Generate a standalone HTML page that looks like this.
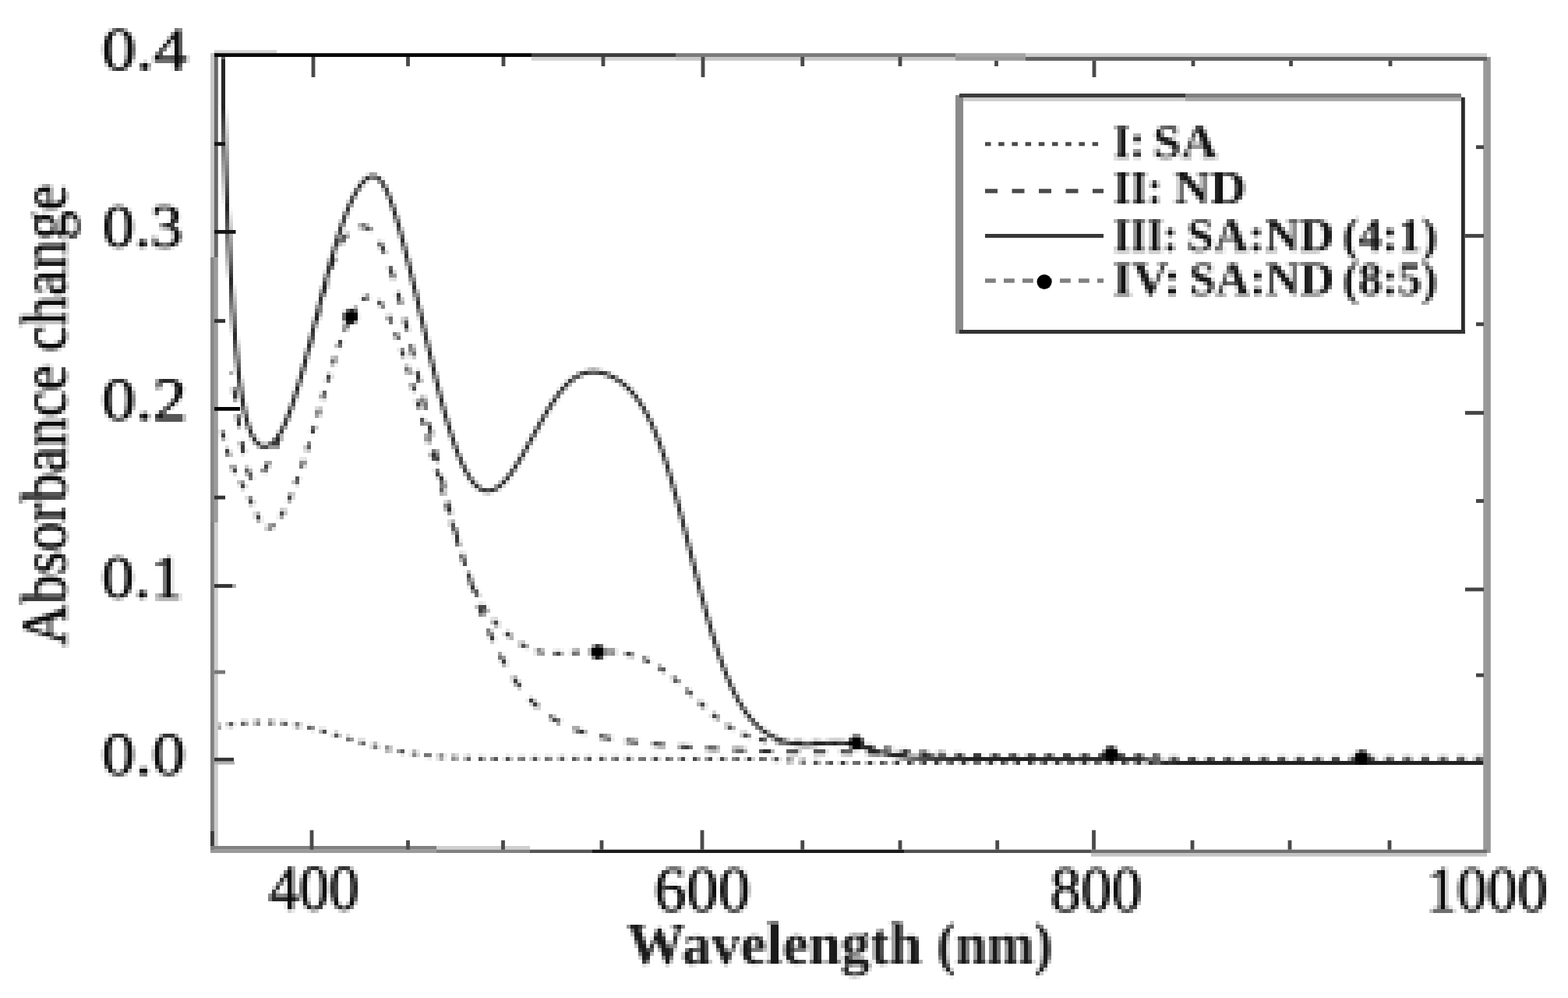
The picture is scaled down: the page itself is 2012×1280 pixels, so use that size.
<!DOCTYPE html>
<html lang="en"><head><meta charset="utf-8"><title>Absorbance change vs. wavelength</title>
<style>
html,body{margin:0;padding:0;background:#fff;}
body{width:2012px;height:1280px;overflow:hidden;}
svg{display:block;}
text{font-family:"Liberation Serif","DejaVu Serif",serif;fill:#0d0d0d;stroke:#0d0d0d;stroke-width:1.2;stroke-linejoin:round;}
.b{font-weight:bold;fill:#151515;stroke:none;}
.t{font-weight:bold;fill:#1a1a1a;stroke:none;}
</style></head><body>
<svg width="2012" height="1280" viewBox="0 0 2012 1280" role="img" aria-label="Absorbance change versus wavelength">
<defs><filter id="lowres" x="0" y="0" width="2012" height="1280" filterUnits="userSpaceOnUse" primitiveUnits="userSpaceOnUse" color-interpolation-filters="sRGB">
<feConvolveMatrix in="SourceGraphic" order="5" kernelMatrix="1 1 1 1 1 1 1 1 1 1 1 1 1 1 1 1 1 1 1 1 1 1 1 1 1" divisor="25" edgeMode="duplicate" preserveAlpha="true" result="avg"/>
<feFlood x="6.0" y="3.0" width="1" height="1" flood-color="#000" result="dot"/>
<feComposite in="dot" in2="dot" operator="over" x="4.0" y="1.0" width="5" height="5" result="cell"/>
<feTile in="cell" result="grid"/>
<feComposite in="avg" in2="grid" operator="in" result="samples"/>
<feMorphology in="samples" operator="dilate" radius="2"/>
</filter></defs>
<g id="plot" filter="url(#lowres)">
<rect width="2012" height="1280" fill="#fff"/>
<g id="curves" fill="none" stroke-linejoin="round">
<path d="M276.0 932.2L279.0 931.7L281.9 931.3L284.9 930.8L287.9 930.4L290.8 930.0L293.8 929.6L296.8 929.2L299.8 928.9L302.7 928.6L305.7 928.3L308.7 928.0L311.7 927.7L314.7 927.5L317.7 927.2L320.7 927.1L323.7 926.9L326.7 926.8L329.7 926.7L332.7 926.6L335.7 926.5L338.7 926.5L341.7 926.5L344.7 926.6L347.7 926.7L350.7 926.8L353.7 927.0L356.6 927.2L359.6 927.4L362.6 927.6L365.6 927.9L368.6 928.3L371.6 928.6L374.6 929.1L377.5 929.5L380.5 930.0L383.4 930.5L386.4 931.0L389.3 931.6L392.3 932.2L395.2 932.8L398.1 933.5L401.1 934.2L404.0 934.9L406.9 935.6L409.8 936.4L412.7 937.2L415.6 938.0L418.5 938.8L421.4 939.6L424.3 940.5L427.1 941.3L430.0 942.2L432.9 943.0L435.8 943.9L438.6 944.8L441.5 945.6L444.4 946.5L447.2 947.4L450.1 948.2L453.0 949.1L455.9 949.9L458.8 950.7L461.6 951.6L464.5 952.4L467.4 953.2L470.3 954.0L473.2 954.7L476.1 955.5L479.0 956.2L481.9 956.9L484.8 957.7L487.8 958.3L490.7 959.0L493.6 959.7L496.5 960.3L499.5 960.9L502.4 961.5L505.3 962.1L508.3 962.7L511.2 963.2L514.2 963.8L517.1 964.3L520.1 964.8L523.1 965.3L526.0 965.7L529.0 966.2L531.9 966.6L534.9 967.1L537.9 967.5L540.9 967.9L543.8 968.2L546.8 968.6L549.8 968.9L552.8 969.3L555.8 969.6L558.7 969.9L561.7 970.2L564.7 970.5L567.7 970.7L570.7 971.0L573.7 971.2L576.7 971.4L579.7 971.6L582.7 971.8L585.7 972.0L588.6 972.1L591.6 972.3L594.6 972.4L597.6 972.5L600.6 972.6L603.6 972.7L606.6 972.8L609.6 972.9L612.6 972.9L615.6 973.0L618.6 973.0L621.6 973.1L624.6 973.1L627.6 973.1L630.6 973.2L633.6 973.2L636.6 973.2L639.6 973.2L642.6 973.2L645.6 973.2L648.6 973.2L651.6 973.1L654.6 973.1L657.6 973.1L660.6 973.1L663.6 973.1L666.6 973.1L669.6 973.0L672.6 973.0L675.6 973.0L678.6 973.0L681.6 973.0L684.6 972.9L687.6 972.9L690.6 972.9L693.6 972.9L696.6 972.9L699.6 972.9L702.6 972.9L705.6 972.9L708.6 972.9L711.6 972.9L714.6 972.8L717.6 972.8L720.6 972.8L723.6 972.8L726.6 972.9L729.6 972.9L732.6 972.9L735.6 972.9L738.6 972.9L741.6 972.9L744.6 972.9L747.6 972.9L750.6 972.9L753.6 972.9L756.6 972.9L759.6 972.9L762.6 972.9L765.6 973.0L768.6 973.0L771.6 973.0L774.6 973.0L777.6 973.0L780.6 973.0L783.6 973.0L786.6 973.0L789.6 973.1L792.6 973.1L795.6 973.1L798.6 973.1L801.6 973.1L804.6 973.1L807.6 973.1L810.6 973.1L813.6 973.1L816.6 973.1L819.6 973.2L822.6 973.2L825.6 973.2L828.6 973.2L831.6 973.2L834.6 973.2L837.6 973.2L840.6 973.2L843.6 973.2L846.6 973.2L849.6 973.2L852.6 973.2L855.6 973.2L858.6 973.2L861.6 973.2L864.6 973.2L867.6 973.3L870.6 973.3L873.6 973.3L876.6 973.3L879.6 973.3L882.6 973.3L885.6 973.3L888.6 973.3L891.6 973.3L894.6 973.3L897.6 973.3L900.6 973.3L903.6 973.3L906.6 973.3L909.6 973.3L912.6 973.3L915.6 973.3L918.6 973.3L921.6 973.3L924.6 973.3L927.6 973.3L930.6 973.3L933.6 973.3L936.6 973.3L939.6 973.3L942.6 973.3L945.6 973.3L948.6 973.3L951.6 973.3L954.6 973.3L957.6 973.4L960.6 973.4L963.6 973.4L966.6 973.4L969.6 973.4L972.6 973.5L975.6 973.5L978.6 973.6L981.6 973.6L984.6 973.7L987.6 973.8L990.6 973.9L993.6 974.0L996.6 974.1L999.6 974.3L1002.6 974.5L1005.6 974.7L1008.6 974.9L1011.6 975.2L1014.6 975.4L1017.6 975.7L1020.6 976.0L1023.6 976.3L1026.6 976.6L1029.6 976.8L1032.6 977.1L1035.6 977.3L1038.6 977.5L1041.6 977.7L1044.6 977.8L1047.6 978.0L1050.6 978.1L1053.6 978.2L1056.6 978.2L1059.6 978.3L1062.6 978.4L1065.6 978.4L1068.6 978.4L1071.6 978.5L1074.6 978.5L1077.6 978.5L1080.6 978.5L1083.6 978.5L1086.6 978.6L1089.6 978.6L1092.6 978.6L1095.6 978.6L1098.6 978.6L1101.6 978.6L1104.6 978.6L1107.6 978.6L1110.6 978.6L1113.6 978.6L1116.6 978.6L1119.6 978.6L1122.6 978.6L1125.6 978.6L1128.6 978.6L1131.6 978.6L1134.6 978.6L1137.6 978.6L1140.6 978.6L1143.6 978.6L1146.6 978.6L1149.6 978.6L1152.6 978.6L1155.6 978.6L1158.6 978.6L1161.6 978.6L1164.6 978.6L1167.6 978.6L1170.6 978.6L1173.6 978.6L1176.6 978.6L1179.6 978.6L1182.6 978.6L1185.6 978.6L1188.6 978.6L1191.6 978.6L1194.6 978.6L1197.6 978.6L1200.6 978.6L1203.6 978.6L1206.6 978.6L1209.6 978.6L1212.6 978.6L1215.6 978.6L1218.6 978.6L1221.6 978.6L1224.6 978.6L1227.6 978.6L1230.6 978.6L1233.6 978.6L1236.6 978.6L1239.6 978.6L1242.6 978.6L1245.6 978.6L1248.6 978.6L1251.6 978.6L1254.6 978.6L1257.6 978.6L1260.6 978.6L1263.6 978.6L1266.6 978.6L1269.6 978.6L1272.6 978.6L1275.6 978.6L1278.6 978.6L1281.6 978.6L1284.6 978.6L1287.6 978.6L1290.6 978.6L1293.6 978.6L1296.6 978.6L1299.6 978.6L1302.6 978.6L1305.6 978.6L1308.6 978.6L1311.6 978.6L1314.6 978.6L1317.6 978.6L1320.6 978.6L1323.6 978.6L1326.6 978.6L1329.6 978.6L1332.6 978.6L1335.6 978.6L1338.6 978.6L1341.6 978.6L1344.6 978.6L1347.6 978.6L1350.6 978.6L1353.6 978.6L1356.6 978.6L1359.6 978.6L1362.6 978.6L1365.6 978.6L1368.6 978.6L1371.6 978.6L1374.6 978.6L1377.6 978.6L1380.6 978.6L1383.6 978.6L1386.6 978.6L1389.6 978.6L1392.6 978.6L1395.6 978.6L1398.6 978.6L1401.6 978.6L1404.6 978.6L1407.6 978.6L1410.6 978.6L1413.6 978.6L1416.6 978.6L1419.6 978.6L1422.6 978.6L1425.6 978.6L1428.6 978.6L1431.6 978.6L1434.6 978.6L1437.6 978.6L1440.6 978.6L1443.6 978.6L1446.6 978.6L1449.6 978.6L1452.6 978.6L1455.6 978.6L1458.6 978.6L1461.6 978.6L1464.6 978.6L1467.6 978.6L1470.6 978.6L1473.6 978.6L1476.6 978.6L1479.6 978.6L1482.6 978.6L1485.6 978.6L1488.6 978.6L1491.6 978.6L1494.6 978.6L1497.6 978.6L1500.6 978.6L1503.6 978.6L1506.6 978.6L1509.6 978.6L1512.6 978.6L1515.6 978.6L1518.6 978.6L1521.6 978.6L1524.6 978.6L1527.6 978.6L1530.6 978.6L1533.6 978.6L1536.6 978.6L1539.6 978.6L1542.6 978.6L1545.6 978.6L1548.6 978.6L1551.6 978.6L1554.6 978.6L1557.6 978.6L1560.6 978.6L1563.6 978.6L1566.6 978.6L1569.6 978.6L1572.6 978.6L1575.6 978.6L1578.6 978.6L1581.6 978.6L1584.6 978.6L1587.6 978.6L1590.6 978.6L1593.6 978.6L1596.6 978.6L1599.6 978.6L1602.6 978.6L1605.6 978.6L1608.6 978.6L1611.6 978.6L1614.6 978.6L1617.6 978.6L1620.6 978.6L1623.6 978.6L1626.6 978.6L1629.6 978.6L1632.6 978.6L1635.6 978.6L1638.6 978.6L1641.6 978.6L1644.6 978.6L1647.6 978.6L1650.6 978.6L1653.6 978.6L1656.6 978.6L1659.6 978.6L1662.6 978.6L1665.6 978.6L1668.6 978.6L1671.6 978.6L1674.6 978.6L1677.6 978.6L1680.6 978.6L1683.6 978.6L1686.6 978.6L1689.6 978.6L1692.6 978.6L1695.6 978.6L1698.6 978.6L1701.6 978.6L1704.6 978.6L1707.6 978.6L1710.6 978.6L1713.6 978.6L1716.6 978.6L1719.6 978.6L1722.6 978.6L1725.6 978.6L1728.6 978.6L1731.6 978.6L1734.6 978.6L1737.6 978.6L1740.6 978.6L1743.6 978.6L1746.6 978.6L1749.6 978.6L1752.6 978.6L1755.6 978.6L1758.6 978.6L1761.6 978.6L1764.6 978.6L1767.6 978.6L1770.6 978.6L1773.6 978.6L1776.6 978.6L1779.6 978.6L1782.6 978.6L1785.6 978.6L1788.6 978.6L1791.6 978.6L1794.6 978.6L1797.6 978.6L1800.6 978.6L1803.6 978.6L1806.6 978.6L1809.6 978.6L1812.6 978.6L1815.6 978.6L1818.6 978.6L1821.6 978.6L1824.6 978.6L1827.6 978.6L1830.6 978.6L1833.6 978.6L1836.6 978.6L1839.6 978.6L1842.6 978.6L1845.6 978.6L1848.6 978.6L1851.6 978.6L1854.6 978.6L1857.6 978.6L1860.6 978.6L1863.6 978.6L1866.6 978.6L1869.6 978.6L1872.6 978.6L1875.6 978.6L1878.6 978.6L1881.6 978.6L1884.6 978.6L1887.6 978.6L1890.6 978.6L1893.6 978.6L1896.6 978.6L1899.6 978.6L1902.6 978.6L1905.0 978.6" stroke="#3c3c3c" stroke-width="5" stroke-dasharray="7.5 9.7" stroke-dashoffset="0.7"/>
<path d="M297.0 477.1L297.5 480.1L298.0 483.0L298.4 486.0L298.9 488.9L299.3 491.9L299.8 494.9L300.2 497.8L300.6 500.8L301.0 503.8L301.5 506.7L301.9 509.7L302.3 512.7L302.7 515.7L303.1 518.6L303.5 521.6L303.9 524.6L304.3 527.5L304.7 530.5L305.1 533.5L305.5 536.5L305.9 539.4L306.3 542.4L306.8 545.4L307.2 548.4L307.6 551.3L308.1 554.3L308.5 557.3L309.0 560.2L309.4 563.2L309.9 566.2L310.4 569.1L310.9 572.1L311.4 575.1L311.9 578.0L312.5 580.9L313.1 583.9L313.7 586.8L314.3 589.7L315.0 592.6L315.7 595.5L316.4 598.4L317.3 601.2L318.2 604.0L319.2 606.7L320.3 609.3L321.7 611.8L323.4 613.9L325.6 615.4L328.5 615.5L331.3 613.8L333.6 611.6L335.5 609.1L337.2 606.6L338.9 604.0L340.4 601.4L341.9 598.7L343.3 596.0L344.6 593.3L346.0 590.6L347.3 587.9L348.6 585.2L349.8 582.4L351.1 579.7L352.3 576.9L353.5 574.2L354.7 571.4L355.9 568.6L357.0 565.8L358.2 563.1L359.3 560.3L360.4 557.5L361.5 554.7L362.6 551.9L363.7 549.1L364.8 546.3L365.8 543.4L366.9 540.6L367.9 537.8L369.0 535.0L370.0 532.2L371.0 529.3L372.0 526.5L373.0 523.7L374.0 520.8L375.0 518.0L375.9 515.1L376.9 512.3L377.9 509.4L378.8 506.6L379.8 503.7L380.7 500.9L381.6 498.0L382.5 495.1L383.4 492.3L384.3 489.4L385.2 486.5L386.1 483.7L387.0 480.8L387.9 477.9L388.7 475.0L389.6 472.2L390.4 469.3L391.3 466.4L392.1 463.5L392.9 460.6L393.8 457.7L394.6 454.8L395.4 452.0L396.2 449.1L397.0 446.2L397.8 443.3L398.6 440.4L399.4 437.5L400.1 434.6L400.9 431.7L401.7 428.8L402.4 425.9L403.2 423.0L404.0 420.0L404.7 417.1L405.5 414.2L406.2 411.3L407.0 408.4L407.7 405.5L408.5 402.6L409.2 399.7L410.0 396.8L410.7 393.9L411.5 391.0L412.2 388.1L413.0 385.2L413.7 382.3L414.5 379.4L415.2 376.5L416.0 373.6L416.8 370.7L417.6 367.8L418.4 364.9L419.2 362.1L420.0 359.2L420.8 356.3L421.7 353.4L422.5 350.6L423.4 347.7L424.3 344.9L425.2 342.0L426.2 339.2L427.1 336.4L428.1 333.6L429.1 330.8L430.2 328.0L431.3 325.2L432.4 322.5L433.6 319.8L434.9 317.1L436.2 314.5L437.6 311.9L439.0 309.3L440.6 306.8L442.3 304.4L444.0 302.1L445.9 299.9L447.9 297.8L450.1 295.8L452.5 294.0L454.9 292.5L457.6 291.3L460.4 290.4L463.4 290.1L466.4 290.3L469.3 291.1L472.1 292.4L474.7 294.2L477.0 296.2L479.1 298.5L481.0 300.9L482.8 303.5L484.5 306.0L486.0 308.7L487.5 311.4L488.8 314.1L490.2 316.8L491.4 319.6L492.7 322.4L493.8 325.1L495.0 328.0L496.1 330.8L497.1 333.6L498.2 336.4L499.2 339.3L500.2 342.1L501.1 345.0L502.1 347.8L503.0 350.7L503.9 353.6L504.8 356.5L505.7 359.3L506.5 362.2L507.4 365.1L508.2 368.0L509.1 370.9L509.9 373.8L510.7 376.7L511.5 379.6L512.3 382.5L513.1 385.4L513.9 388.3L514.6 391.2L515.4 394.1L516.1 397.0L516.9 399.9L517.6 402.8L518.4 405.7L519.1 408.6L519.8 411.6L520.5 414.5L521.3 417.4L522.0 420.3L522.7 423.2L523.4 426.1L524.1 429.1L524.8 432.0L525.5 434.9L526.2 437.8L526.9 440.7L527.6 443.7L528.2 446.6L528.9 449.5L529.6 452.4L530.3 455.3L531.0 458.3L531.6 461.2L532.3 464.1L533.0 467.0L533.7 470.0L534.3 472.9L535.0 475.8L535.7 478.7L536.3 481.7L537.0 484.6L537.7 487.5L538.3 490.4L539.0 493.4L539.6 496.3L540.3 499.2L541.0 502.2L541.6 505.1L542.3 508.0L543.0 510.9L543.6 513.9L544.3 516.8L544.9 519.7L545.6 522.6L546.3 525.6L546.9 528.5L547.6 531.4L548.3 534.3L548.9 537.3L549.6 540.2L550.3 543.1L550.9 546.0L551.6 549.0L552.3 551.9L552.9 554.8L553.6 557.7L554.3 560.6L555.0 563.6L555.6 566.5L556.3 569.4L557.0 572.3L557.7 575.3L558.4 578.2L559.0 581.1L559.7 584.0L560.4 586.9L561.1 589.9L561.8 592.8L562.5 595.7L563.2 598.6L563.9 601.5L564.6 604.4L565.3 607.3L566.0 610.3L566.7 613.2L567.4 616.1L568.1 619.0L568.9 621.9L569.6 624.8L570.3 627.7L571.0 630.6L571.8 633.5L572.5 636.5L573.2 639.4L574.0 642.3L574.7 645.2L575.5 648.1L576.2 651.0L577.0 653.9L577.7 656.8L578.5 659.7L579.3 662.6L580.0 665.5L580.8 668.4L581.6 671.3L582.4 674.1L583.2 677.0L584.0 679.9L584.7 682.8L585.6 685.7L586.4 688.6L587.2 691.5L588.0 694.4L588.8 697.2L589.6 700.1L590.5 703.0L591.3 705.9L592.2 708.7L593.0 711.6L593.9 714.5L594.7 717.4L595.6 720.2L596.5 723.1L597.4 725.9L598.2 728.8L599.1 731.7L600.0 734.5L601.0 737.4L601.9 740.2L602.8 743.1L603.7 745.9L604.7 748.8L605.6 751.6L606.6 754.4L607.5 757.3L608.5 760.1L609.5 762.9L610.5 765.8L611.5 768.6L612.5 771.4L613.5 774.2L614.6 777.0L615.6 779.8L616.7 782.6L617.7 785.4L618.8 788.2L619.9 791.0L621.0 793.8L622.1 796.5L623.2 799.3L624.3 802.1L625.5 804.8L626.7 807.6L627.8 810.3L629.0 813.1L630.2 815.8L631.4 818.6L632.7 821.3L633.9 824.0L635.2 826.7L636.5 829.4L637.8 832.1L639.1 834.8L640.5 837.4L641.8 840.1L643.2 842.7L644.6 845.4L646.0 848.0L647.5 850.6L648.9 853.2L650.4 855.8L651.9 858.4L653.5 860.9L655.1 863.4L656.6 866.0L658.3 868.5L659.9 871.0L661.6 873.4L663.3 875.9L665.0 878.3L666.8 880.7L668.6 883.1L670.4 885.4L672.3 887.7L674.2 890.0L676.1 892.3L678.1 894.5L680.1 896.7L682.2 898.9L684.3 901.0L686.4 903.1L688.5 905.2L690.7 907.2L693.0 909.1L695.3 911.0L697.6 912.9L699.9 914.7L702.3 916.5L704.8 918.2L707.2 919.9L709.7 921.5L712.3 923.1L714.8 924.6L717.5 926.1L720.1 927.5L722.7 928.9L725.4 930.2L728.2 931.4L730.9 932.6L733.7 933.7L736.4 934.8L739.2 935.9L742.1 936.9L744.9 937.9L747.7 938.8L750.6 939.6L753.5 940.5L756.4 941.3L759.3 942.0L762.2 942.8L765.1 943.5L768.0 944.1L770.9 944.8L773.9 945.4L776.8 945.9L779.8 946.5L782.7 947.0L785.7 947.5L788.6 948.0L791.6 948.5L794.6 949.0L797.5 949.4L800.5 949.8L803.5 950.3L806.4 950.6L809.4 951.0L812.4 951.4L815.4 951.8L818.3 952.1L821.3 952.5L824.3 952.8L827.3 953.1L830.3 953.4L833.3 953.7L836.2 954.1L839.2 954.3L842.2 954.6L845.2 954.9L848.2 955.2L851.2 955.5L854.2 955.7L857.1 956.0L860.1 956.2L863.1 956.5L866.1 956.7L869.1 957.0L872.1 957.2L875.1 957.4L878.1 957.7L881.1 957.9L884.1 958.1L887.1 958.3L890.0 958.5L893.0 958.7L896.0 958.9L899.0 959.1L902.0 959.3L905.0 959.5L908.0 959.7L911.0 959.9L914.0 960.1L917.0 960.3L920.0 960.5L923.0 960.6L926.0 960.8L929.0 961.0L932.0 961.2L935.0 961.3L938.0 961.5L940.9 961.6L943.9 961.8L946.9 962.0L949.9 962.1L952.9 962.3L955.9 962.4L958.9 962.5L961.9 962.7L964.9 962.8L967.9 962.9L970.9 963.1L973.9 963.2L976.9 963.3L979.9 963.4L982.9 963.5L985.9 963.7L988.9 963.8L991.9 963.9L994.9 963.9L997.9 964.0L1000.9 964.1L1003.9 964.2L1006.9 964.3L1009.9 964.3L1012.9 964.4L1015.9 964.4L1018.9 964.5L1021.9 964.5L1024.9 964.5L1027.9 964.6L1030.9 964.6L1033.9 964.6L1036.9 964.6L1039.9 964.6L1042.9 964.6L1045.9 964.6L1048.9 964.6L1051.9 964.6L1054.9 964.6L1057.9 964.6L1060.9 964.6L1063.9 964.6L1066.9 964.6L1069.9 964.6L1072.9 964.6L1075.9 964.6L1078.9 964.6L1081.9 964.6L1084.9 964.7L1087.9 964.7L1090.9 964.8L1093.9 964.9L1096.9 964.9L1099.9 965.0L1102.9 965.1L1105.9 965.3L1108.9 965.4L1111.9 965.5L1114.9 965.6L1117.9 965.8L1120.9 965.9L1123.9 966.1L1126.9 966.3L1129.9 966.4L1132.8 966.6L1135.8 966.8L1138.8 967.0L1141.8 967.1L1144.8 967.3L1147.8 967.5L1150.8 967.6L1153.8 967.8L1156.8 968.0L1159.8 968.1L1162.8 968.3L1165.8 968.4L1168.8 968.6L1171.8 968.7L1174.8 968.9L1177.8 969.0L1180.8 969.1L1183.8 969.2L1186.8 969.3L1189.8 969.4L1192.8 969.5L1195.8 969.6L1198.8 969.7L1200.0 969.8" stroke="#2a2a2a" stroke-width="5" stroke-dasharray="16 18.5" stroke-dashoffset="13.8"/>
<path d="M284.6 551.5L285.3 554.4L286.1 557.3L286.9 560.2L287.6 563.0L288.4 565.9L289.2 568.8L290.0 571.7L290.8 574.6L291.6 577.4L292.5 580.3L293.4 583.2L294.3 586.0L295.2 588.8L296.2 591.6L297.2 594.4L298.2 597.2L299.3 600.0L300.5 602.7L301.7 605.4L303.0 608.0L304.3 610.7L305.7 613.3L307.2 615.8L308.7 618.4L310.3 620.9L311.8 623.5L313.4 626.1L314.9 628.8L316.3 631.4L317.7 634.1L319.0 636.9L320.3 639.6L321.6 642.3L322.8 645.1L324.0 647.9L325.2 650.6L326.4 653.3L327.6 656.1L328.9 658.8L330.2 661.4L331.5 664.1L332.9 666.7L334.4 669.1L336.1 671.5L338.0 673.6L340.1 675.4L342.7 676.5L345.6 676.6L348.6 675.5L351.2 673.7L353.4 671.5L355.4 669.1L357.3 666.7L359.0 664.1L360.6 661.5L362.2 658.9L363.7 656.3L365.1 653.6L366.5 650.9L367.8 648.2L369.1 645.4L370.3 642.7L371.6 639.9L372.8 637.1L373.9 634.4L375.1 631.6L376.2 628.8L377.3 626.0L378.4 623.2L379.5 620.3L380.5 617.5L381.5 614.7L382.6 611.9L383.6 609.0L384.6 606.2L385.5 603.3L386.5 600.5L387.5 597.6L388.4 594.8L389.4 591.9L390.3 589.1L391.2 586.2L392.2 583.4L393.1 580.5L394.0 577.6L394.9 574.8L395.8 571.9L396.7 569.0L397.5 566.2L398.4 563.3L399.3 560.4L400.2 557.5L401.0 554.7L401.9 551.8L402.7 548.9L403.6 546.0L404.5 543.1L405.3 540.3L406.2 537.4L407.0 534.5L407.9 531.6L408.7 528.8L409.5 525.9L410.4 523.0L411.2 520.1L412.1 517.2L412.9 514.4L413.8 511.5L414.6 508.6L415.4 505.7L416.3 502.8L417.1 500.0L418.0 497.1L418.8 494.2L419.7 491.4L420.6 488.5L421.4 485.6L422.3 482.7L423.2 479.9L424.0 477.0L424.9 474.1L425.8 471.3L426.7 468.4L427.6 465.6L428.5 462.7L429.4 459.9L430.4 457.0L431.3 454.2L432.2 451.3L433.2 448.5L434.1 445.7L435.1 442.8L436.1 440.0L437.1 437.2L438.1 434.4L439.2 431.6L440.2 428.8L441.3 426.0L442.4 423.3L443.5 420.5L444.7 417.7L445.9 415.0L447.1 412.3L448.3 409.6L449.6 406.9L451.0 404.3L452.4 401.7L453.8 399.1L455.3 396.6L456.9 394.1L458.6 391.7L460.4 389.4L462.3 387.2L464.4 385.2L466.7 383.4L469.2 382.0L472.0 381.1L474.9 380.8L477.9 381.3L480.8 382.6L483.4 384.3L485.7 386.4L487.8 388.6L489.8 391.0L491.5 393.5L493.2 396.1L494.8 398.7L496.3 401.4L497.7 404.1L499.1 406.8L500.4 409.5L501.6 412.3L502.9 415.1L504.0 417.8L505.2 420.6L506.3 423.4L507.4 426.2L508.5 429.1L509.6 431.9L510.6 434.7L511.6 437.6L512.6 440.4L513.6 443.2L514.6 446.1L515.5 448.9L516.5 451.8L517.4 454.7L518.3 457.5L519.2 460.4L520.1 463.2L521.0 466.1L521.9 469.0L522.8 471.9L523.7 474.7L524.6 477.6L525.4 480.5L526.3 483.4L527.2 486.2L528.0 489.1L528.9 492.0L529.7 494.9L530.5 497.8L531.4 500.6L532.2 503.5L533.1 506.4L533.9 509.3L534.7 512.2L535.5 515.1L536.4 517.9L537.2 520.8L538.0 523.7L538.8 526.6L539.7 529.5L540.5 532.4L541.3 535.3L542.1 538.2L542.9 541.0L543.7 543.9L544.6 546.8L545.4 549.7L546.2 552.6L547.0 555.5L547.8 558.4L548.6 561.2L549.5 564.1L550.3 567.0L551.1 569.9L551.9 572.8L552.7 575.7L553.5 578.6L554.4 581.5L555.2 584.3L556.0 587.2L556.8 590.1L557.6 593.0L558.4 595.9L559.2 598.8L560.1 601.7L560.9 604.6L561.7 607.4L562.5 610.3L563.3 613.2L564.1 616.1L565.0 619.0L565.8 621.9L566.6 624.8L567.4 627.6L568.2 630.5L569.1 633.4L569.9 636.3L570.7 639.2L571.5 642.1L572.4 644.9L573.2 647.8L574.0 650.7L574.8 653.6L575.7 656.5L576.5 659.4L577.3 662.2L578.2 665.1L579.0 668.0L579.9 670.9L580.7 673.7L581.6 676.6L582.4 679.5L583.3 682.4L584.1 685.2L585.0 688.1L585.9 691.0L586.8 693.8L587.7 696.7L588.6 699.5L589.5 702.4L590.4 705.2L591.3 708.1L592.2 710.9L593.2 713.8L594.1 716.6L595.1 719.5L596.0 722.3L597.0 725.1L598.0 727.9L599.0 730.7L600.1 733.5L601.1 736.3L602.2 739.1L603.3 741.9L604.4 744.7L605.5 747.4L606.6 750.2L607.8 752.9L609.0 755.7L610.3 758.4L611.5 761.1L612.8 763.7L614.1 766.4L615.5 769.0L616.9 771.7L618.4 774.2L619.9 776.8L621.4 779.3L623.0 781.9L624.6 784.3L626.3 786.8L628.1 789.2L629.9 791.5L631.7 793.9L633.6 796.1L635.6 798.4L637.6 800.6L639.6 802.7L641.7 804.8L643.9 806.9L646.1 808.9L648.3 810.9L650.6 812.8L652.9 814.7L655.2 816.6L657.6 818.4L660.0 820.2L662.4 821.9L664.9 823.5L667.4 825.1L670.0 826.7L672.5 828.1L675.2 829.5L677.9 830.8L680.6 832.0L683.4 833.1L686.2 834.1L689.0 835.0L691.9 835.8L694.8 836.4L697.8 837.0L700.7 837.4L703.7 837.7L706.7 837.9L709.7 838.0L712.7 838.1L715.7 838.1L718.7 838.0L721.7 837.9L724.7 837.7L727.7 837.5L730.7 837.3L733.7 837.1L736.7 836.9L739.6 836.7L742.6 836.5L745.6 836.3L748.6 836.1L751.6 836.0L754.6 835.8L757.6 835.7L760.6 835.6L763.6 835.6L766.6 835.5L769.6 835.5L772.6 835.6L775.6 835.6L778.6 835.7L781.6 835.9L784.6 836.1L787.6 836.3L790.6 836.6L793.6 836.9L796.6 837.3L799.5 837.7L802.5 838.3L805.4 838.8L808.4 839.5L811.3 840.2L814.2 841.0L817.1 841.9L819.9 842.9L822.7 843.9L825.5 845.0L828.3 846.2L831.0 847.5L833.7 848.8L836.4 850.2L839.0 851.7L841.6 853.2L844.2 854.8L846.7 856.5L849.2 858.2L851.7 859.9L854.1 861.7L856.5 863.5L858.9 865.4L861.2 867.3L863.5 869.2L865.8 871.2L868.1 873.1L870.4 875.1L872.6 877.1L874.8 879.2L877.0 881.2L879.2 883.3L881.4 885.3L883.6 887.4L885.8 889.5L887.9 891.5L890.1 893.6L892.3 895.7L894.4 897.8L896.6 899.8L898.8 901.9L901.0 903.9L903.2 906.0L905.4 908.0L907.6 910.0L909.8 912.0L912.1 914.0L914.3 915.9L916.6 917.8L918.9 919.7L921.3 921.6L923.6 923.5L926.0 925.3L928.4 927.0L930.8 928.7L933.3 930.4L935.8 932.0L938.3 933.6L940.9 935.1L943.5 936.6L946.1 938.0L948.8 939.3L951.5 940.6L954.2 941.8L957.0 943.0L959.8 944.0L962.6 945.0L965.5 945.9L968.3 946.7L971.2 947.5L974.2 948.2L977.1 948.8L980.0 949.4L983.0 949.9L985.9 950.3L988.9 950.7L991.9 951.0L994.9 951.3L997.9 951.5L1000.9 951.7L1003.9 951.8L1006.9 952.0L1009.9 952.1L1012.9 952.2L1015.9 952.2L1018.9 952.3L1021.9 952.3L1024.9 952.3L1027.9 952.4L1030.9 952.4L1033.9 952.4L1036.9 952.4L1039.9 952.5L1042.9 952.5L1045.9 952.6L1048.8 952.6L1051.8 952.7L1054.8 952.8L1057.8 952.9L1060.8 953.0L1063.8 953.2L1066.8 953.3L1069.8 953.5L1072.8 953.7L1075.8 953.9L1078.8 954.1L1081.8 954.3L1084.8 954.6L1087.8 954.8L1090.8 955.1L1093.8 955.4L1096.7 955.7L1099.7 956.0L1102.7 956.3L1105.7 956.7L1108.7 957.0L1111.7 957.3L1114.6 957.7L1117.6 958.1L1120.6 958.4L1123.6 958.8L1126.5 959.1L1129.5 959.5L1132.5 959.9L1135.5 960.2L1138.5 960.6L1141.4 961.0L1144.4 961.3L1147.4 961.7L1150.4 962.0L1153.4 962.4L1156.3 962.7L1159.3 963.0L1162.3 963.4L1165.3 963.7L1168.3 964.0L1171.3 964.3L1174.2 964.6L1177.2 964.8L1180.2 965.1L1183.2 965.4L1186.2 965.6L1189.2 965.8L1192.2 966.1L1195.2 966.3L1198.2 966.5L1201.1 966.7L1204.1 966.9L1207.1 967.1L1210.1 967.2L1213.1 967.4L1216.1 967.5L1219.1 967.7L1222.1 967.8L1225.1 967.9L1228.1 968.1L1231.1 968.2L1234.1 968.3L1237.1 968.4L1240.1 968.5L1243.1 968.5L1246.1 968.6L1249.1 968.7L1252.1 968.7L1255.1 968.8L1258.1 968.8L1261.1 968.9L1264.1 968.9L1267.1 969.0L1270.1 969.0L1273.1 969.0L1276.1 969.1L1279.1 969.1L1282.1 969.1L1285.1 969.1L1288.1 969.1L1291.1 969.2L1294.1 969.2L1297.1 969.2L1300.1 969.2L1303.1 969.2L1306.1 969.2L1309.1 969.2L1312.1 969.2L1315.1 969.2L1318.1 969.2L1321.1 969.2L1324.1 969.2L1327.1 969.2L1330.1 969.2L1333.1 969.2L1336.1 969.2L1339.1 969.2L1342.1 969.2L1345.1 969.1L1348.1 969.1L1351.1 969.1L1354.1 969.1L1357.1 969.1L1360.1 969.1L1363.1 969.1L1366.1 969.1L1369.1 969.1L1372.1 969.1L1375.1 969.1L1378.1 969.1L1381.1 969.0L1384.1 969.0L1387.1 969.0L1390.1 969.0L1393.1 969.0L1396.1 969.0L1399.1 969.0L1402.1 969.0L1405.1 969.0L1408.1 969.0L1411.1 968.9L1414.1 968.9L1417.1 968.9L1420.1 968.9L1423.1 968.9L1426.1 968.9L1429.1 968.9L1432.1 968.9L1435.1 968.9L1438.1 968.9L1441.1 968.9L1444.1 968.8L1447.1 968.8L1450.1 968.8L1453.1 968.9L1456.1 968.9L1459.1 968.9L1462.1 968.9L1465.1 969.0L1468.1 969.0L1471.1 969.2L1474.1 969.3L1477.1 969.5L1480.1 969.8L1483.1 970.1L1486.1 970.5L1489.1 970.9L1492.1 971.3L1495.1 971.8L1498.1 972.1L1501.1 972.4L1504.1 972.7L1507.1 972.8L1510.1 973.0L1513.1 973.1L1516.1 973.1L1519.1 973.2L1522.1 973.2L1525.1 973.2L1528.1 973.2L1531.1 973.2L1534.1 973.2L1537.1 973.2L1540.1 973.2L1543.1 973.2L1546.1 973.2L1549.1 973.2L1552.1 973.2L1555.1 973.2L1558.1 973.2L1561.1 973.2L1564.1 973.2L1567.1 973.2L1570.1 973.2L1573.1 973.2L1576.1 973.2L1579.1 973.1L1582.1 973.1L1585.1 973.1L1588.1 973.1L1591.1 973.1L1594.1 973.1L1597.1 973.1L1600.1 973.1L1603.1 973.1L1606.1 973.1L1609.1 973.1L1612.1 973.1L1615.1 973.1L1618.1 973.1L1621.1 973.0L1624.1 973.0L1627.1 973.0L1630.1 973.0L1633.1 973.0L1636.1 973.0L1639.1 973.0L1642.1 973.0L1645.1 973.0L1648.1 973.0L1651.1 973.0L1654.1 973.0L1657.1 973.0L1660.1 973.0L1663.1 973.0L1666.1 973.0L1669.1 972.9L1672.1 972.9L1675.1 972.9L1678.1 972.9L1681.1 972.9L1684.1 972.9L1687.1 972.9L1690.1 972.9L1693.1 972.9L1696.1 972.9L1699.1 972.9L1702.1 972.9L1705.1 972.9L1708.1 972.9L1711.1 972.9L1714.1 972.9L1717.1 972.9L1720.1 972.9L1723.1 972.8L1726.1 972.8L1729.1 972.8L1732.1 972.8L1735.1 972.8L1738.1 972.8L1741.1 972.8L1744.1 972.8L1747.1 972.8L1750.1 972.8L1753.1 972.8L1756.1 972.8L1759.1 972.8L1762.1 972.8L1765.1 972.8L1768.1 972.8L1771.1 972.8L1774.1 972.8L1777.1 972.8L1780.1 972.8L1783.1 972.8L1786.1 972.8L1789.1 972.8L1792.1 972.8L1795.1 972.8L1798.1 972.8L1801.1 972.7L1804.1 972.7L1807.1 972.7L1810.1 972.7L1813.1 972.7L1816.1 972.7L1819.1 972.7L1822.1 972.7L1825.1 972.7L1828.1 972.7L1831.1 972.7L1834.1 972.7L1837.1 972.7L1840.1 972.7L1843.1 972.7L1846.1 972.7L1849.1 972.7L1852.1 972.7L1855.1 972.7L1858.1 972.7L1861.1 972.7L1864.1 972.7L1867.1 972.7L1870.1 972.7L1873.1 972.7L1876.1 972.7L1879.1 972.7L1882.1 972.7L1885.1 972.7L1888.1 972.7L1891.1 972.7L1894.1 972.7L1897.1 972.7L1900.1 972.7L1903.1 972.7L1905.0 972.7" stroke="#333" stroke-width="5" stroke-dasharray="10.5 12.5" stroke-dashoffset="21.5"/>
<path d="M286.4 72.5L286.4 77.4L286.4 82.2L286.4 87.0L286.4 91.7L286.4 96.4L286.4 101.1L286.4 105.8L286.4 110.4L286.4 115.0L286.4 119.5L286.4 124.0L286.4 128.5L286.4 132.9L286.5 137.3L286.7 141.7L286.8 146.0L287.0 150.3L287.1 154.6L287.3 158.8L287.4 163.0L287.6 167.2L287.7 171.3L287.9 175.4L288.0 179.5L288.2 183.5L288.3 187.6L288.5 191.5L288.6 195.5L288.8 199.4L288.9 203.3L289.1 207.1L289.2 210.9L289.4 214.7L289.5 218.4L289.7 222.2L289.8 225.9L290.0 229.5L290.1 233.1L290.3 236.7L290.4 240.3L290.6 243.8L290.7 247.4L290.9 250.8L291.0 254.3L291.2 257.7L291.3 261.1L291.5 264.4L291.6 267.8L291.8 271.1L291.9 274.4L292.1 277.6L292.2 280.8L292.4 284.0L292.5 287.2L292.7 290.3L292.8 293.4L293.0 296.5L293.1 299.5L293.3 302.6L293.5 305.6L293.6 308.6L293.8 311.6L293.9 314.7L294.1 317.7L294.2 320.7L294.4 323.7L294.6 326.8L294.7 329.8L294.9 332.8L295.0 335.9L295.2 338.9L295.4 341.9L295.6 344.9L295.7 348.0L295.9 351.0L296.1 354.0L296.3 357.0L296.5 360.1L296.6 363.1L296.8 366.1L297.0 369.1L297.2 372.2L297.4 375.2L297.6 378.2L297.8 381.2L298.0 384.2L298.2 387.3L298.4 390.3L298.6 393.3L298.8 396.3L299.0 399.4L299.3 402.4L299.5 405.4L299.7 408.4L299.9 411.4L300.2 414.4L300.4 417.5L300.6 420.5L300.9 423.5L301.1 426.5L301.4 429.5L301.6 432.5L301.9 435.6L302.2 438.6L302.4 441.6L302.7 444.6L303.0 447.6L303.3 450.6L303.6 453.6L303.8 456.6L304.2 459.6L304.5 462.6L304.8 465.6L305.1 468.6L305.4 471.6L305.8 474.6L306.1 477.6L306.5 480.6L306.8 483.6L307.2 486.6L307.6 489.6L308.0 492.6L308.4 495.6L308.8 498.5L309.3 501.5L309.7 504.5L310.2 507.5L310.7 510.4L311.2 513.4L311.7 516.3L312.2 519.3L312.8 522.2L313.4 525.1L314.0 528.1L314.7 531.0L315.3 533.9L316.0 536.8L316.8 539.6L317.6 542.5L318.5 545.3L319.4 548.1L320.3 550.9L321.4 553.7L322.5 556.4L323.8 559.0L325.2 561.6L326.7 564.0L328.4 566.3L330.3 568.5L332.5 570.3L334.9 571.8L337.7 572.7L340.6 572.8L343.6 572.1L346.4 570.8L349.0 569.0L351.3 566.9L353.4 564.6L355.3 562.2L357.0 559.6L358.7 557.0L360.2 554.4L361.7 551.7L363.1 549.0L364.4 546.3L365.7 543.5L366.9 540.7L368.1 538.0L369.2 535.2L370.3 532.3L371.4 529.5L372.4 526.7L373.5 523.8L374.5 521.0L375.4 518.1L376.4 515.3L377.3 512.4L378.3 509.6L379.2 506.7L380.1 503.8L380.9 500.9L381.8 498.1L382.7 495.2L383.5 492.3L384.4 489.4L385.2 486.5L386.0 483.6L386.8 480.7L387.6 477.8L388.4 474.9L389.2 472.0L390.0 469.1L390.8 466.2L391.5 463.3L392.3 460.4L393.1 457.5L393.8 454.6L394.6 451.7L395.4 448.8L396.1 445.9L396.9 443.0L397.6 440.1L398.3 437.2L399.1 434.3L399.8 431.4L400.6 428.5L401.3 425.6L402.0 422.6L402.8 419.7L403.5 416.8L404.2 413.9L404.9 411.0L405.7 408.1L406.4 405.2L407.1 402.3L407.9 399.4L408.6 396.5L409.3 393.5L410.1 390.6L410.8 387.7L411.5 384.8L412.3 381.9L413.0 379.0L413.8 376.1L414.5 373.2L415.2 370.3L416.0 367.4L416.8 364.5L417.5 361.6L418.3 358.7L419.0 355.8L419.8 352.9L420.6 350.0L421.3 347.1L422.1 344.2L422.9 341.3L423.7 338.4L424.5 335.5L425.3 332.7L426.1 329.8L426.9 326.9L427.7 324.0L428.6 321.1L429.4 318.3L430.3 315.4L431.1 312.5L432.0 309.7L432.9 306.8L433.7 303.9L434.6 301.1L435.6 298.2L436.5 295.4L437.4 292.6L438.4 289.7L439.4 286.9L440.3 284.1L441.4 281.3L442.4 278.5L443.4 275.7L444.5 272.9L445.6 270.1L446.7 267.4L447.9 264.6L449.1 261.9L450.3 259.2L451.5 256.5L452.8 253.8L454.2 251.2L455.6 248.6L457.0 246.0L458.6 243.5L460.1 241.0L461.8 238.5L463.6 236.2L465.4 233.9L467.4 231.8L469.6 229.9L471.9 228.2L474.5 226.8L477.3 226.1L480.3 226.1L483.2 227.2L485.8 229.0L488.1 231.2L490.0 233.7L491.7 236.3L493.3 239.0L494.7 241.7L496.0 244.4L497.3 247.2L498.5 250.0L499.6 252.8L500.7 255.7L501.7 258.5L502.7 261.4L503.7 264.2L504.7 267.1L505.6 270.0L506.5 272.8L507.4 275.7L508.3 278.6L509.1 281.5L510.0 284.4L510.8 287.2L511.6 290.1L512.5 293.0L513.3 295.9L514.1 298.8L514.9 301.7L515.6 304.6L516.4 307.5L517.2 310.4L518.0 313.3L518.7 316.2L519.5 319.1L520.2 322.1L521.0 325.0L521.7 327.9L522.4 330.8L523.2 333.7L523.9 336.6L524.6 339.5L525.4 342.4L526.1 345.4L526.8 348.3L527.5 351.2L528.2 354.1L528.9 357.0L529.6 359.9L530.3 362.9L531.0 365.8L531.7 368.7L532.4 371.6L533.1 374.5L533.8 377.5L534.5 380.4L535.2 383.3L535.9 386.2L536.5 389.1L537.2 392.1L537.9 395.0L538.6 397.9L539.3 400.8L539.9 403.7L540.6 406.7L541.3 409.6L542.0 412.5L542.7 415.4L543.3 418.4L544.0 421.3L544.7 424.2L545.4 427.1L546.1 430.1L546.7 433.0L547.4 435.9L548.1 438.8L548.8 441.7L549.5 444.7L550.1 447.6L550.8 450.5L551.5 453.4L552.2 456.3L552.9 459.3L553.6 462.2L554.3 465.1L555.0 468.0L555.7 470.9L556.4 473.8L557.1 476.7L557.8 479.7L558.5 482.6L559.2 485.5L560.0 488.4L560.7 491.3L561.4 494.2L562.1 497.1L562.9 500.0L563.6 502.9L564.4 505.8L565.1 508.7L565.9 511.6L566.7 514.5L567.4 517.4L568.2 520.3L569.0 523.2L569.8 526.1L570.6 529.0L571.4 531.8L572.2 534.7L573.1 537.6L573.9 540.5L574.7 543.3L575.6 546.2L576.5 549.1L577.4 551.9L578.3 554.8L579.2 557.6L580.1 560.5L581.0 563.3L582.0 566.1L583.0 569.0L583.9 571.8L585.0 574.6L586.0 577.4L587.0 580.2L588.1 582.9L589.2 585.7L590.4 588.5L591.5 591.2L592.7 593.9L594.0 596.6L595.3 599.3L596.6 601.9L598.0 604.6L599.4 607.2L600.9 609.7L602.5 612.2L604.1 614.6L605.8 617.0L607.7 619.3L609.6 621.5L611.7 623.5L614.0 625.4L616.4 627.0L619.0 628.3L621.8 629.3L624.7 629.7L627.7 629.6L630.7 629.1L633.5 628.0L636.3 626.6L638.9 625.0L641.3 623.1L643.6 621.1L645.8 619.0L647.9 616.7L649.9 614.4L651.8 612.1L653.7 609.7L655.5 607.3L657.2 604.8L658.9 602.3L660.6 599.8L662.2 597.2L663.9 594.7L665.4 592.1L667.0 589.5L668.5 587.0L670.1 584.4L671.6 581.8L673.1 579.1L674.5 576.5L676.0 573.9L677.5 571.3L678.9 568.6L680.4 566.0L681.8 563.4L683.3 560.8L684.7 558.1L686.1 555.5L687.6 552.9L689.0 550.2L690.5 547.6L691.9 545.0L693.4 542.4L694.9 539.8L696.4 537.2L697.9 534.6L699.4 532.0L700.9 529.4L702.4 526.9L704.0 524.3L705.6 521.8L707.2 519.3L708.8 516.8L710.5 514.3L712.1 511.8L713.9 509.4L715.6 507.0L717.4 504.6L719.2 502.3L721.1 500.0L723.1 497.8L725.1 495.6L727.1 493.4L729.2 491.3L731.4 489.4L733.7 487.5L736.0 485.7L738.5 484.0L741.0 482.4L743.6 481.0L746.3 479.8L749.1 478.8L751.9 478.0L754.9 477.4L757.8 477.0L760.8 476.8L763.8 476.9L766.8 477.2L769.8 477.7L772.7 478.3L775.6 479.1L778.5 480.1L781.3 481.2L784.1 482.5L786.8 483.8L789.4 485.3L792.0 486.8L794.5 488.5L797.0 490.3L799.4 492.1L801.8 494.0L804.0 496.0L806.2 498.1L808.4 500.3L810.4 502.5L812.4 504.8L814.4 507.1L816.3 509.5L818.1 511.9L819.8 514.4L821.5 516.9L823.2 519.5L824.8 522.1L826.3 524.7L827.8 527.3L829.3 530.0L830.7 532.6L832.1 535.3L833.4 538.0L834.7 540.8L836.0 543.5L837.2 546.3L838.4 549.0L839.6 551.8L840.8 554.6L841.9 557.4L843.0 560.2L844.1 563.0L845.2 565.8L846.2 568.7L847.3 571.5L848.3 574.3L849.3 577.2L850.3 580.0L851.2 582.9L852.2 585.7L853.1 588.6L854.1 591.4L855.0 594.3L855.9 597.2L856.8 600.0L857.7 602.9L858.5 605.8L859.4 608.7L860.3 611.6L861.1 614.4L861.9 617.3L862.8 620.2L863.6 623.1L864.4 626.0L865.2 628.9L866.0 631.8L866.8 634.7L867.6 637.6L868.4 640.5L869.2 643.4L870.0 646.3L870.8 649.2L871.5 652.1L872.3 655.0L873.1 657.9L873.8 660.8L874.6 663.7L875.3 666.6L876.1 669.5L876.8 672.4L877.6 675.3L878.3 678.2L879.1 681.1L879.8 684.0L880.6 686.9L881.3 689.8L882.0 692.8L882.8 695.7L883.5 698.6L884.3 701.5L885.0 704.4L885.7 707.3L886.5 710.2L887.2 713.1L887.9 716.0L888.7 718.9L889.4 721.8L890.1 724.7L890.9 727.7L891.6 730.6L892.4 733.5L893.1 736.4L893.8 739.3L894.6 742.2L895.3 745.1L896.1 748.0L896.8 750.9L897.6 753.8L898.3 756.7L899.1 759.6L899.9 762.5L900.6 765.4L901.4 768.3L902.2 771.2L903.0 774.1L903.7 777.0L904.5 779.9L905.3 782.7L906.1 785.6L906.9 788.5L907.7 791.4L908.6 794.3L909.4 797.2L910.2 800.0L911.0 802.9L911.9 805.8L912.7 808.7L913.6 811.5L914.4 814.4L915.3 817.3L916.2 820.1L917.1 823.0L918.0 825.8L918.9 828.7L919.8 831.5L920.8 834.4L921.7 837.2L922.7 840.0L923.6 842.9L924.6 845.7L925.6 848.5L926.6 851.3L927.7 854.1L928.7 856.9L929.8 859.7L930.9 862.5L932.0 865.3L933.1 868.0L934.2 870.8L935.4 873.5L936.6 876.3L937.8 879.0L939.0 881.7L940.3 884.4L941.6 887.1L942.9 889.8L944.3 892.4L945.6 895.1L947.1 897.7L948.5 900.3L950.0 902.8L951.6 905.4L953.2 907.9L954.8 910.4L956.5 912.8L958.2 915.2L960.0 917.6L961.8 919.9L963.7 922.2L965.6 924.5L967.7 926.6L969.7 928.8L971.9 930.8L974.0 932.8L976.3 934.8L978.6 936.6L981.0 938.4L983.4 940.1L985.9 941.7L988.5 943.2L991.1 944.7L993.8 946.0L996.5 947.3L999.2 948.4L1002.0 949.5L1004.8 950.5L1007.7 951.3L1010.6 952.1L1013.5 952.8L1016.4 953.4L1019.4 953.9L1022.3 954.2L1025.3 954.5L1028.3 954.7L1031.3 954.9L1034.3 954.9L1037.3 954.9L1040.3 954.7L1043.3 954.6L1046.3 954.4L1049.3 954.1L1052.3 953.8L1055.2 953.6L1058.2 953.3L1061.2 953.0L1064.2 952.8L1067.2 952.6L1070.2 952.5L1073.2 952.4L1076.2 952.5L1079.2 952.6L1082.2 952.8L1085.2 953.1L1088.2 953.5L1091.1 954.0L1094.1 954.5L1097.0 955.2L1099.9 955.9L1102.8 956.7L1105.7 957.5L1108.6 958.4L1111.5 959.3L1114.3 960.2L1117.2 961.1L1120.1 962.0L1122.9 962.9L1125.8 963.7L1128.7 964.6L1131.5 965.4L1134.4 966.1L1137.3 966.9L1140.3 967.6L1143.2 968.2L1146.1 968.8L1149.1 969.3L1152.0 969.8L1155.0 970.2L1158.0 970.6L1161.0 970.9L1163.9 971.2L1166.9 971.5L1169.9 971.7L1172.9 971.9L1175.9 972.1L1178.9 972.2L1181.9 972.4L1184.9 972.5L1187.9 972.6L1190.9 972.7L1193.9 972.8L1196.9 972.8L1199.9 972.9L1202.9 973.0L1205.9 973.0L1208.9 973.1L1211.9 973.1L1214.9 973.1L1217.9 973.2L1220.9 973.2L1223.9 973.2L1226.9 973.3L1229.9 973.3L1232.9 973.3L1235.9 973.3L1238.9 973.4L1241.9 973.4L1244.9 973.4L1247.9 973.4L1250.9 973.4L1253.9 973.5L1256.9 973.5L1259.9 973.5L1262.9 973.5L1265.9 973.5L1268.9 973.5L1271.9 973.5L1274.9 973.6L1277.9 973.6L1280.9 973.6L1283.9 973.6L1286.9 973.6L1289.9 973.6L1292.9 973.6L1295.9 973.6L1298.9 973.6L1301.9 973.6L1304.9 973.6L1307.9 973.6L1310.9 973.6L1313.9 973.6L1316.9 973.6L1319.9 973.6L1322.9 973.7L1325.9 973.7L1328.9 973.7L1331.9 973.7L1334.9 973.7L1337.9 973.7L1340.9 973.7L1343.9 973.7L1346.9 973.7L1349.9 973.7L1352.9 973.7L1355.9 973.7L1358.9 973.7L1361.9 973.7L1364.9 973.7L1367.9 973.7L1370.9 973.7L1373.9 973.7L1376.9 973.7L1379.9 973.7L1382.9 973.7L1385.9 973.7L1388.9 973.7L1391.9 973.7L1394.9 973.7L1397.9 973.7L1400.9 973.7L1403.9 973.7L1406.9 973.7L1409.9 973.7L1412.9 973.7L1415.9 973.7L1418.9 973.7L1421.9 973.7L1424.9 973.7L1427.9 973.7L1430.9 973.7L1433.9 973.7L1436.9 973.7L1439.9 973.7L1442.9 973.7L1445.9 973.8L1448.9 973.8L1451.9 973.8L1454.9 973.9L1457.9 974.0L1460.9 974.1L1463.9 974.3L1466.9 974.5L1469.9 974.7L1472.9 975.1L1475.9 975.5L1478.9 975.9L1481.9 976.3L1484.9 976.7L1487.9 977.1L1490.9 977.4L1493.9 977.7L1496.9 977.9L1499.9 978.0L1502.9 978.1L1505.9 978.2L1508.9 978.3L1511.9 978.3L1514.9 978.3L1517.9 978.4L1520.9 978.4L1523.9 978.4L1526.9 978.4L1529.9 978.4L1532.9 978.4L1535.9 978.4L1538.9 978.4L1541.9 978.4L1544.9 978.4L1547.9 978.4L1550.9 978.4L1553.9 978.4L1556.9 978.4L1559.9 978.4L1562.9 978.4L1565.9 978.4L1568.9 978.4L1571.9 978.4L1574.9 978.4L1577.9 978.4L1580.9 978.4L1583.9 978.4L1586.9 978.4L1589.9 978.4L1592.9 978.4L1595.9 978.4L1598.9 978.4L1601.9 978.4L1604.9 978.4L1607.9 978.4L1610.9 978.4L1613.9 978.4L1616.9 978.4L1619.9 978.4L1622.9 978.4L1625.9 978.4L1628.9 978.4L1631.9 978.4L1634.9 978.4L1637.9 978.4L1640.9 978.4L1643.9 978.4L1646.9 978.4L1649.9 978.4L1652.9 978.4L1655.9 978.4L1658.9 978.4L1661.9 978.4L1664.9 978.4L1667.9 978.4L1670.9 978.4L1673.9 978.4L1676.9 978.4L1679.9 978.4L1682.9 978.4L1685.9 978.4L1688.9 978.4L1691.9 978.4L1694.9 978.4L1697.9 978.4L1700.9 978.4L1703.9 978.4L1706.9 978.4L1709.9 978.4L1712.9 978.4L1715.9 978.4L1718.9 978.4L1721.9 978.4L1724.9 978.4L1727.9 978.4L1730.9 978.4L1733.9 978.4L1736.9 978.4L1739.9 978.4L1742.9 978.4L1745.9 978.4L1748.9 978.4L1751.9 978.4L1754.9 978.4L1757.9 978.4L1760.9 978.4L1763.9 978.4L1766.9 978.4L1769.9 978.4L1772.9 978.4L1775.9 978.4L1778.9 978.4L1781.9 978.4L1784.9 978.4L1787.9 978.4L1790.9 978.4L1793.9 978.4L1796.9 978.4L1799.9 978.4L1802.9 978.4L1805.9 978.4L1808.9 978.4L1811.9 978.4L1814.9 978.4L1817.9 978.4L1820.9 978.4L1823.9 978.4L1826.9 978.4L1829.9 978.4L1832.9 978.4L1835.9 978.4L1838.9 978.4L1841.9 978.4L1844.9 978.4L1847.9 978.4L1850.9 978.4L1853.9 978.4L1856.9 978.4L1859.9 978.4L1862.9 978.4L1865.9 978.4L1868.9 978.4L1871.9 978.4L1874.9 978.4L1877.9 978.4L1880.9 978.4L1883.9 978.4L1886.9 978.4L1889.9 978.4L1892.9 978.4L1895.9 978.4L1898.9 978.4L1901.9 978.4L1904.9 978.4L1905.0 978.4" stroke="#222" stroke-width="5"/>
</g>
<g id="markers" fill="#000">
<circle cx="450.0" cy="406.3" r="9.5"/>
<circle cx="767.4" cy="836.2" r="9.5"/>
<circle cx="1098.8" cy="952.6" r="9.5"/>
<circle cx="1425.5" cy="966.4" r="9.5"/>
<circle cx="1747.7" cy="971.7" r="9.5"/>
</g>
<g id="legend">
<text y="202.0" font-size="61" class="b"><tspan x="1429.0" textLength="39.5" lengthAdjust="spacingAndGlyphs">I:</tspan> <tspan x="1479.5" textLength="83.0" lengthAdjust="spacingAndGlyphs">SA</tspan></text>
<text y="260.5" font-size="61" class="b"><tspan x="1429.0" textLength="62.0" lengthAdjust="spacingAndGlyphs">II:</tspan> <tspan x="1506.5" textLength="92.5" lengthAdjust="spacingAndGlyphs">ND</tspan></text>
<text y="322.0" font-size="61" class="b"><tspan x="1429.0" textLength="82.0" lengthAdjust="spacingAndGlyphs">III:</tspan> <tspan x="1523.0" textLength="189.0" lengthAdjust="spacingAndGlyphs">SA:ND</tspan> <tspan x="1723.0" textLength="121.5" lengthAdjust="spacingAndGlyphs">(4:1)</tspan></text>
<text y="377.5" font-size="61" class="b"><tspan x="1428.0" textLength="87.0" lengthAdjust="spacingAndGlyphs">IV:</tspan> <tspan x="1526.0" textLength="186.0" lengthAdjust="spacingAndGlyphs">SA:ND</tspan> <tspan x="1723.0" textLength="121.5" lengthAdjust="spacingAndGlyphs">(8:5)</tspan></text>
</g>
<g id="ylabels">
<text y="88.7" font-size="79"><tspan x="130.5" textLength="110.5" lengthAdjust="spacingAndGlyphs">0.4</tspan></text>
<text y="316.0" font-size="79"><tspan x="131.5" textLength="103.0" lengthAdjust="spacingAndGlyphs">0.3</tspan></text>
<text y="538.0" font-size="79"><tspan x="130.5" textLength="109.5" lengthAdjust="spacingAndGlyphs">0.2</tspan></text>
<text y="766.0" font-size="79"><tspan x="130.5" textLength="104.5" lengthAdjust="spacingAndGlyphs">0.1</tspan></text>
<text y="992.5" font-size="79"><tspan x="130.5" textLength="107.5" lengthAdjust="spacingAndGlyphs">0.0</tspan></text>
</g>
<g id="xlabels">
<text y="1166.0" font-size="83"><tspan x="345.0" textLength="116.0" lengthAdjust="spacingAndGlyphs">400</tspan></text>
<text y="1167.5" font-size="83"><tspan x="839.6" textLength="123.2" lengthAdjust="spacingAndGlyphs">600</tspan></text>
<text y="1167.5" font-size="83"><tspan x="1348.0" textLength="117.5" lengthAdjust="spacingAndGlyphs">800</tspan></text>
<text y="1168.0" font-size="83"><tspan x="1830.5" textLength="155.5" lengthAdjust="spacingAndGlyphs">1000</tspan></text>
</g>
<text y="1236.0" font-size="77" class="t"><tspan x="804.3" textLength="378.9" lengthAdjust="spacingAndGlyphs">Wavelength</tspan> <tspan x="1202.0" textLength="149.0" lengthAdjust="spacingAndGlyphs">(nm)</tspan></text>
<text y="0.0" font-size="83" transform="translate(84.0 830.0) rotate(-90)"><tspan x="1.0" textLength="361.0" lengthAdjust="spacingAndGlyphs">Absorbance</tspan> <tspan x="379.0" textLength="214.5" lengthAdjust="spacingAndGlyphs">change</tspan></text>
</g>
<g id="frame">
<rect x="270.0" y="68.0" width="4.9" height="262.0" fill="#c8c8c8"/>
<rect x="274.9" y="68.0" width="4.9" height="262.0" fill="#666"/>
<rect x="270.0" y="330.0" width="4.9" height="340.0" fill="#888"/>
<rect x="274.9" y="330.0" width="4.9" height="340.0" fill="#9c9c9c"/>
<rect x="270.0" y="670.0" width="4.9" height="396.0" fill="#808080"/>
<rect x="274.9" y="670.0" width="4.9" height="415.0" fill="#ccc"/>
<rect x="270.0" y="1066.0" width="4.9" height="24.0" fill="#3d3d3d"/>
<rect x="1903.2" y="73.0" width="4.8" height="1021.0" fill="#9a9a9a"/>
<rect x="1908.0" y="73.0" width="4.8" height="1021.0" fill="#969696"/>
<rect x="275.0" y="64.2" width="80.0" height="4.0" fill="#d4d4d4"/>
<rect x="275.0" y="68.2" width="407.0" height="4.8" fill="#080808"/>
<rect x="682.0" y="68.2" width="185.0" height="4.8" fill="#3d3d3d"/>
<rect x="682.0" y="73.0" width="185.0" height="4.8" fill="#d4d4d4"/>
<rect x="867.0" y="68.2" width="359.0" height="4.8" fill="#7a7a7a"/>
<rect x="867.0" y="73.0" width="359.0" height="4.8" fill="#c8c8c8"/>
<rect x="1226.0" y="68.2" width="90.0" height="4.8" fill="#a4a4a4"/>
<rect x="1226.0" y="73.0" width="90.0" height="4.8" fill="#9a9a9a"/>
<rect x="1316.0" y="68.2" width="592.0" height="4.8" fill="#ccc"/>
<rect x="1316.0" y="73.0" width="592.0" height="4.9" fill="#606060"/>
<rect x="270.0" y="1085.0" width="290.0" height="4.7" fill="#808080"/>
<rect x="270.0" y="1089.7" width="290.0" height="4.3" fill="#9a9a9a"/>
<rect x="560.0" y="1085.0" width="120.0" height="4.7" fill="#cfcfcf"/>
<rect x="560.0" y="1089.7" width="120.0" height="4.3" fill="#808080"/>
<rect x="680.0" y="1089.7" width="80.0" height="4.3" fill="#555"/>
<rect x="760.0" y="1089.7" width="400.0" height="4.3" fill="#1c1c1c"/>
<rect x="1160.0" y="1089.7" width="240.0" height="4.3" fill="#505050"/>
<rect x="1400.0" y="1089.7" width="508.0" height="4.3" fill="#707070"/>
<rect x="1400.0" y="1094.0" width="508.0" height="4.6" fill="#c4c4c4"/>
</g>
<g id="ticks">
<rect x="399.6" y="73.0" width="4.8" height="26.0" fill="#4a4a4a"/>
<rect x="521.1" y="73.0" width="4.8" height="12.0" fill="#4a4a4a"/>
<rect x="643.6" y="73.0" width="4.8" height="12.0" fill="#4a4a4a"/>
<rect x="771.6" y="73.0" width="4.8" height="12.0" fill="#4a4a4a"/>
<rect x="899.6" y="73.0" width="4.8" height="26.0" fill="#4a4a4a"/>
<rect x="1027.3" y="73.0" width="4.8" height="12.0" fill="#4a4a4a"/>
<rect x="1152.6" y="73.0" width="4.8" height="12.0" fill="#4a4a4a"/>
<rect x="1276.1" y="77.9" width="4.8" height="7.1" fill="#4a4a4a"/>
<rect x="1401.6" y="77.9" width="4.8" height="21.1" fill="#4a4a4a"/>
<rect x="1528.6" y="77.9" width="4.8" height="7.1" fill="#4a4a4a"/>
<rect x="1654.1" y="77.9" width="4.8" height="7.1" fill="#4a4a4a"/>
<rect x="1781.6" y="77.9" width="4.8" height="7.1" fill="#4a4a4a"/>
<rect x="397.6" y="1064.7" width="4.8" height="25.0" fill="#4a4a4a"/>
<rect x="521.1" y="1077.7" width="4.8" height="12.0" fill="#4a4a4a"/>
<rect x="643.1" y="1077.7" width="4.8" height="12.0" fill="#4a4a4a"/>
<rect x="769.6" y="1077.7" width="4.8" height="12.0" fill="#4a4a4a"/>
<rect x="898.6" y="1064.7" width="4.8" height="25.0" fill="#4a4a4a"/>
<rect x="1027.3" y="1077.7" width="4.8" height="12.0" fill="#4a4a4a"/>
<rect x="1152.6" y="1077.7" width="4.8" height="12.0" fill="#4a4a4a"/>
<rect x="1277.3" y="1077.7" width="4.8" height="12.0" fill="#4a4a4a"/>
<rect x="1401.1" y="1064.7" width="4.8" height="25.0" fill="#4a4a4a"/>
<rect x="1527.6" y="1077.7" width="4.8" height="12.0" fill="#4a4a4a"/>
<rect x="1652.6" y="1077.7" width="4.8" height="12.0" fill="#4a4a4a"/>
<rect x="1780.6" y="1077.7" width="4.8" height="12.0" fill="#4a4a4a"/>
<rect x="275.0" y="182.2" width="14.0" height="4.8" fill="#151515"/>
<rect x="275.0" y="295.0" width="27.5" height="4.8" fill="#151515"/>
<rect x="275.0" y="409.2" width="14.0" height="4.8" fill="#333"/>
<rect x="275.0" y="522.0" width="33.0" height="4.8" fill="#050505"/>
<rect x="275.0" y="635.7" width="14.0" height="4.8" fill="#333"/>
<rect x="275.0" y="749.1" width="25.0" height="4.8" fill="#333"/>
<rect x="275.0" y="859.6" width="14.0" height="4.8" fill="#777"/>
<rect x="275.0" y="971.8" width="25.0" height="4.8" fill="#333"/>
<rect x="275.0" y="976.6" width="26.0" height="4.0" fill="#b0b0b0"/>
<rect x="298.0" y="749.1" width="5.0" height="4.8" fill="#aaa"/>
<rect x="1894.0" y="186.3" width="10.0" height="4.8" fill="#444"/>
<rect x="1880.0" y="300.1" width="24.0" height="4.8" fill="#444"/>
<rect x="1894.0" y="413.4" width="10.0" height="4.8" fill="#444"/>
<rect x="1880.0" y="527.1" width="24.0" height="4.8" fill="#444"/>
<rect x="1894.0" y="640.1" width="10.0" height="4.8" fill="#444"/>
<rect x="1880.0" y="753.6" width="24.0" height="4.8" fill="#444"/>
<rect x="1894.0" y="863.6" width="10.0" height="4.8" fill="#444"/>
</g>
<g id="legendbox">
<rect x="1226.0" y="122.0" width="10.0" height="306.0" fill="#8a8a8a"/>
<rect x="1231.0" y="120.0" width="290.0" height="5.0" fill="#3d3d3d"/>
<rect x="1236.0" y="125.0" width="285.0" height="4.8" fill="#cecece"/>
<rect x="1521.0" y="120.0" width="354.0" height="5.0" fill="#808080"/>
<rect x="1521.0" y="125.0" width="354.0" height="4.8" fill="#a8a8a8"/>
<rect x="1875.0" y="124.8" width="4.8" height="303.0" fill="#2a2a2a"/>
<rect x="1231.0" y="423.0" width="649.0" height="5.0" fill="#333"/>
<g fill="none">
<path d="M1264 184.8H1411" stroke="#4a4a4a" stroke-width="5" stroke-dasharray="7.5 9.7"/>
<path d="M1264 245H1416" stroke="#4a4a4a" stroke-width="5.4" stroke-dasharray="16 18.5"/>
<path d="M1264 302.5H1416" stroke="#383838" stroke-width="4.8"/>
<path d="M1264 360H1416" stroke="#808080" stroke-width="5.6" stroke-dasharray="13.8 10.2"/>
</g>
<circle cx="1340.0" cy="361.5" r="9.5" fill="#000"/>
</g>
</svg>
</body></html>
